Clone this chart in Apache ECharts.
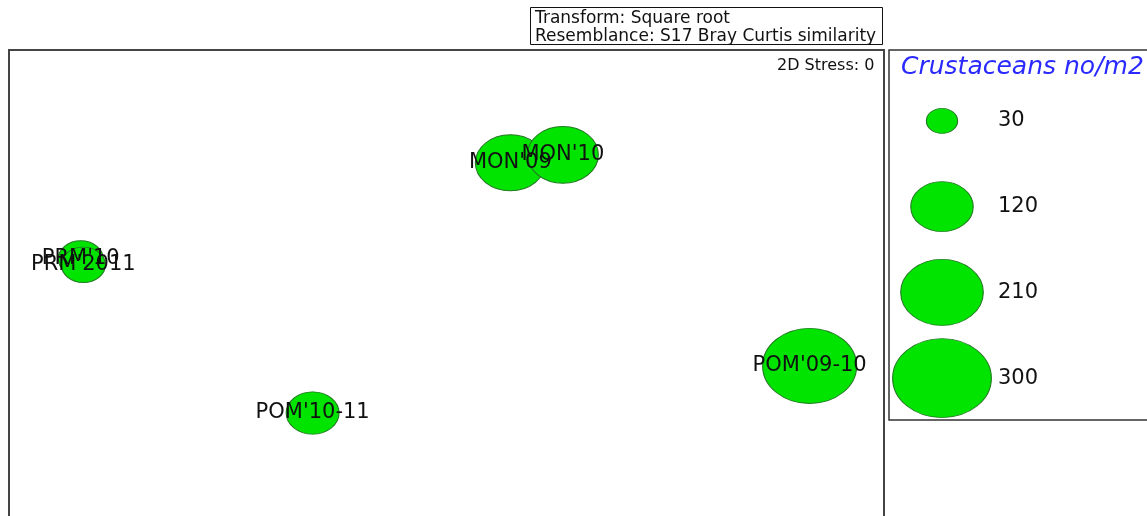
<!DOCTYPE html>
<html>
<head>
<meta charset="utf-8">
<script src="https://cdn.jsdelivr.net/npm/echarts@6/dist/echarts.min.js"></script>
<style>html,body{margin:0;padding:0;background:#fff;}#c{width:1147px;height:516px;}</style>
</head>
<body>
<div id="c"></div>
<script>
// MDS sample points (arbitrary ordination units 0-100)
const sampleNames = ["PRM'10", "PRM'2011", "POM'10-11", "MON'09", "MON'10", "POM'09-10"];
const sampleX = [8.2, 8.5, 34.7, 57.3, 63.3, 91.5];
const sampleY = [55.2, 53.9, 22.1, 75.8, 77.5, 32.2];
const crustaceans = [62, 60, 86, 151, 155, 272];   // no/m2
// bubble legend
const legendValues = [30, 120, 210, 300];
const legendLabels = ['30', '120', '210', '300'];

const K = 5.7;
function bubble(v) { const w = K * Math.sqrt(v); return [w, w * 0.8]; }

const font = 'DejaVu Sans';
const bubbleStyle = { color: '#00e400', borderColor: '#227a22', borderWidth: 1, opacity: 1 };

const mainData = sampleNames.map((n, i) => ({ name: n, value: [sampleX[i], sampleY[i], crustaceans[i]] }));
const legData = legendValues.map((v, i) => ({ name: legendLabels[i], value: [0, i, v] }));

const chart = echarts.init(document.getElementById('c'), null, { renderer: 'canvas' });
chart.setOption({
  animation: false,
  backgroundColor: '#fff',
  title: [
    { text: '2D Stress: 0', left: 772, top: 53,
      textStyle: { fontFamily: font, fontSize: 16, fontWeight: 'normal', color: '#111' } },
    { text: 'Crustaceans no/m2', left: 896, top: 50,
      textStyle: { fontFamily: font, fontSize: 25, fontStyle: 'italic', fontWeight: 'normal', color: '#2a2aff' } }
  ],
  graphic: [
    { type: 'rect', shape: { x: 530.5, y: 7.5, width: 352, height: 37 }, style: { fill: 'none', stroke: '#111', lineWidth: 1 }, silent: true },
    { type: 'text', x: 535, y: 10, style: { text: 'Transform: Square root\nResemblance: S17 Bray Curtis similarity',
        font: '17px "DejaVu Sans"', fill: '#111', lineHeight: 18 }, silent: true },
    { type: 'polyline', shape: { points: [[9, 520], [9, 50], [884, 50], [884, 520]] }, style: { fill: 'none', stroke: '#444', lineWidth: 2 }, silent: true },
    { type: 'rect', shape: { x: 889, y: 50, width: 270, height: 370 }, style: { fill: 'none', stroke: '#333', lineWidth: 1.5 }, silent: true }
  ],
  grid: [
    { left: 9, top: 50, width: 875, height: 466, show: false },
    { left: 889, top: 78, width: 106, height: 343, show: false }
  ],
  xAxis: [
    { gridIndex: 0, type: 'value', min: 0, max: 100, show: false },
    { gridIndex: 1, type: 'category', data: [''], show: false }
  ],
  yAxis: [
    { gridIndex: 0, type: 'value', min: 0, max: 100, show: false },
    { gridIndex: 1, type: 'category', data: legendLabels, inverse: true, show: false }
  ],
  series: [
    { type: 'scatter', xAxisIndex: 0, yAxisIndex: 0, data: mainData, silent: true,
      symbol: 'circle', symbolSize: (val) => bubble(val[2]), itemStyle: bubbleStyle,
      label: { show: true, position: 'inside', formatter: (p) => p.name,
        fontFamily: font, fontSize: 21, color: '#111' } },
    { type: 'scatter', xAxisIndex: 1, yAxisIndex: 1, data: legData, silent: true,
      symbol: 'circle', symbolSize: (val) => bubble(val[2]), itemStyle: bubbleStyle,
      label: { show: true, position: 'inside', align: 'left', offset: [56, 0], formatter: (p) => p.name,
        fontFamily: font, fontSize: 21, color: '#111' } }
  ]
});
</script>
</body>
</html>
